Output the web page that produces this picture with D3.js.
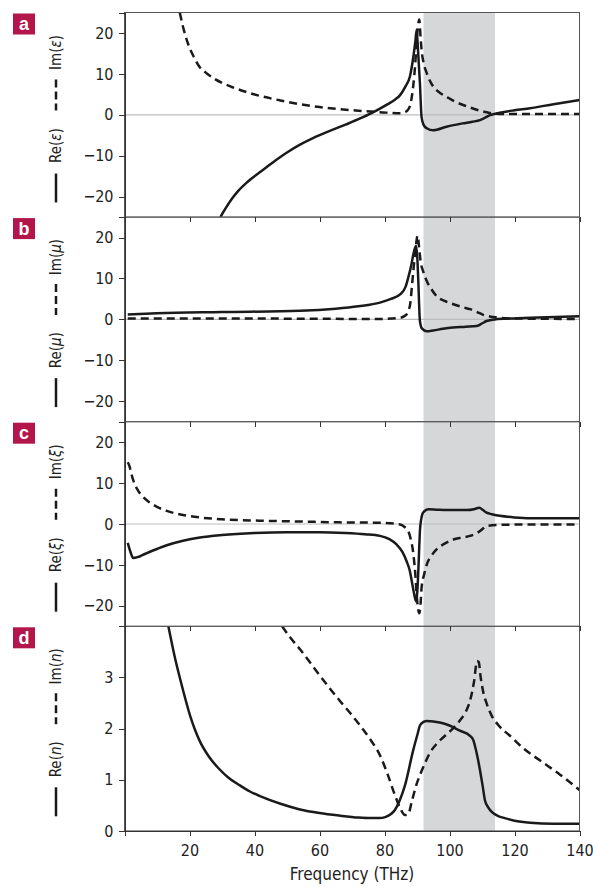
<!DOCTYPE html>
<html>
<head>
  <meta charset="utf-8" />
  <script src="https://d3js.org/d3.v7.min.js"></script>
  <style>
    body {
      margin: 0;
      background: #fff;
      font-family: "Liberation Sans Narrow", "DejaVu Sans Condensed", "Roboto", sans-serif;
    }
    .axis text {
      font-family: "Liberation Sans Narrow", "DejaVu Sans Condensed", "Roboto", sans-serif;
      font-size: 16px;
      fill: #222;
    }
    .axis path, .axis line {
      stroke: #333;
      shape-rendering: crispEdges;
    }
    .curve {
      fill: none;
      stroke: #1a1a1a;
      stroke-width: 2.5px;
      stroke-linejoin: round;
    }
    .legend {
      font-size: 15px;
      fill: #222;
    }
  </style>
</head>
<body>
  <script>
    // frequency axis + shaded band (THz)
    var freqTicks = [20, 40, 60, 80, 100, 120, 140];
    var fieldTicks = [-20, -10, 0, 10, 20];
    var indexTicks = [0, 1, 2, 3];
    var band = [92, 114];

    // [frequency THz, value]
    var reEps = [[29.5,-25],[31,-23],[33,-20.6],[35,-18.6],[38,-16.3],[41.7,-14],[45,-12],[50,-9.2],[54,-7.3],[58,-5.7],[63,-4],[68,-2.4],[72.5,-0.9],[76,0.4],[78.6,1.5],[81,2.6],[83.2,3.7],[84.8,4.8],[86.5,7],[87.8,9.3],[88.9,14.3],[89.5,18],[89.9,20.8],[90.3,16],[90.9,7.7],[91.4,-0.5],[92,-2.4],[93,-3.3],[95,-3.8],[99.1,-2.9],[104,-2.1],[107,-1.7],[109.4,-1.3],[111,-0.7],[112.5,-0.1],[115.5,0.5],[120,1.1],[124.8,1.6],[132,2.6],[140,3.6]];
    var imEps = [[17,25],[18,21.5],[19,18.7],[20,16.4],[21.5,13.9],[23,11.8],[25,10.3],[27.5,8.9],[30,7.8],[33,6.8],[37,5.7],[41.8,4.6],[48,3.5],[54,2.6],[60,1.9],[66,1.4],[72,1],[78.6,0.65],[84.8,0.35],[86.5,0.7],[87.3,1.3],[88,2.6],[88.4,4.4],[89.4,11.8],[90.1,20],[90.7,23.3],[91.1,19],[91.4,15.9],[92,12.8],[93,10.2],[95,6.9],[97,5.4],[99.1,4.4],[101.5,3.3],[104.2,2.4],[107,1.6],[109.4,1],[111.5,0.6],[113.5,0.3],[118,0.2],[140,0.2]];

    var reMu = [[1,1.2],[10,1.5],[30,1.8],[54,2.1],[65,2.6],[72,3.2],[78.6,4.1],[82,5],[84.8,6.1],[86.5,8],[87.3,10.2],[88.3,13.5],[88.9,16],[89.7,18],[90.1,15],[90.4,9.4],[90.9,-0.4],[91.5,-2.2],[93,-2.9],[95,-2.7],[98,-2.3],[101,-2],[105,-1.8],[108.4,-1.6],[110,-1],[111.4,-0.4],[114,0],[119.6,0.25],[130,0.55],[140,0.8]];
    var imMu = [[1,0.2],[40,0.2],[78.6,0.1],[84.8,0.4],[86.5,1],[87.3,2],[88,4.3],[88.4,7.8],[89.4,16],[90.2,20.5],[90.6,18],[91.1,14.3],[92,11.5],[93,9.4],[94.5,7.3],[96,5.7],[98.5,4.5],[101.2,3.7],[104,3],[106.3,2.5],[108.5,1.8],[110.4,1.1],[113.4,0.6],[118,0.25],[140,0.1]];

    var reXi = [[1,-4.6],[1.7,-6.5],[2.7,-8.3],[4,-8.1],[5.5,-7.6],[7.5,-6.9],[10,-6.1],[13,-5.2],[18,-4.1],[23.2,-3.3],[30,-2.7],[40,-2.2],[50,-2],[60,-2],[68,-2.2],[74,-2.5],[78.6,-2.9],[81.5,-3.7],[83.7,-5],[85.5,-6.8],[86.8,-9.1],[87.8,-11.5],[88.4,-14],[89.1,-17],[89.7,-18.9],[90.1,-16.5],[90.4,-11.5],[90.7,-5.5],[90.9,-1.7],[91.3,1.2],[91.9,2.8],[93.5,3.6],[96,3.5],[99.1,3.4],[105.3,3.4],[107.5,3.6],[109.2,4],[110.3,3.4],[111.4,2.8],[113,2.4],[115.5,2],[120,1.6],[124.8,1.4],[140,1.4]];
    var imXi = [[1,15.1],[1.5,14.2],[2.2,12],[3,10],[4,8.4],[5.5,6.8],[7.5,5.4],[10,4.2],[13,3.2],[18,2.2],[23.2,1.6],[30,1.15],[41.7,0.8],[54,0.6],[66,0.4],[78.6,0.3],[84.8,-0.1],[86.3,-0.8],[87.3,-1.7],[88.1,-3.8],[88.9,-7.4],[89.5,-12.5],[89.9,-17.3],[90.7,-21.8],[91.1,-19.5],[91.4,-15.6],[92.2,-12.3],[93,-9.9],[94.5,-7.7],[96,-6.2],[98.5,-4.8],[101.2,-3.8],[104,-3.3],[106.3,-2.9],[108,-2.4],[109.4,-1.7],[110.5,-1],[111.4,-0.5],[114.5,-0.25],[120,-0.15],[140,-0.1]];

    var reN = [[13.5,4],[15.4,3.42],[17.4,2.9],[20.2,2.25],[23.2,1.75],[26,1.45],[29,1.22],[32,1.04],[35.5,0.89],[38.6,0.77],[41.7,0.68],[48,0.53],[54,0.42],[60,0.35],[66,0.3],[72,0.26],[75.5,0.25],[78.5,0.25],[80.2,0.27],[82,0.33],[83.2,0.41],[84.7,0.6],[86.3,0.89],[88.8,1.57],[90.2,1.9],[90.9,2.06],[92,2.13],[93.1,2.15],[97,2.12],[100,2.06],[103.2,1.96],[106.3,1.86],[107.3,1.78],[107.8,1.67],[108.6,1.45],[109.4,1.18],[110.2,0.88],[110.9,0.6],[112,0.45],[113,0.37],[115,0.29],[117,0.25],[120,0.2],[124.8,0.16],[132,0.14],[140,0.14]];
    var imN = [[48.5,4],[51,3.78],[54,3.55],[57,3.3],[60.2,3.03],[63,2.8],[66.3,2.54],[69.5,2.3],[72.5,2.06],[75.5,1.8],[78.6,1.48],[81,1.1],[83.2,0.7],[85,0.42],[86.3,0.31],[87.2,0.32],[88.5,0.6],[89.7,0.88],[90.9,1.09],[92.5,1.33],[94,1.53],[96,1.7],[98.6,1.86],[101,2],[103.2,2.16],[105,2.33],[106.3,2.54],[107.5,2.9],[108.5,3.32],[109,3.3],[109.6,3],[110.3,2.74],[111.5,2.48],[113,2.25],[115,2.07],[118.6,1.86],[123,1.6],[127.8,1.38],[134,1.1],[140,0.8]];

    var panels = [
      { key: "a", domain: [-25, 25], ticks: fieldTicks, re: reEps, im: imEps, sym: "\u03b5", zero: true },
      { key: "b", domain: [-25, 25], ticks: fieldTicks, re: reMu, im: imMu, sym: "\u03bc", zero: true },
      { key: "c", domain: [-25, 25], ticks: fieldTicks, re: reXi, im: imXi, sym: "\u03be", zero: true },
      { key: "d", domain: [0, 4], ticks: indexTicks, re: reN, im: imN, sym: "n", zero: false }
    ];

    var width = 593, height = 887;
    var top0 = 12.5, ph = 204.6;
    var x = d3.scaleLinear().domain([0, 140]).range([124.5, 579.5]);

    var svg = d3.select("body")
      .append("svg")
      .attr("width", width)
      .attr("height", height);

    // shaded band across all panels
    svg.append("rect")
      .attr("x", x(band[0]))
      .attr("y", top0)
      .attr("width", x(band[1]) - x(band[0]))
      .attr("height", ph * panels.length)
      .attr("fill", "#d5d7d9");

    panels.forEach(function(p, i) {
      var y0 = top0 + i * ph;
      var y = d3.scaleLinear().domain(p.domain).range([y0 + ph, y0]);
      var g = svg.append("g");

      g.append("clipPath")
        .attr("id", "clip-" + p.key)
        .append("rect")
        .attr("x", x(0))
        .attr("y", y0)
        .attr("width", x(140) - x(0))
        .attr("height", ph);

      if (p.zero) {
        g.append("line")
          .attr("x1", x(0))
          .attr("x2", x(140))
          .attr("y1", y(0))
          .attr("y2", y(0))
          .attr("stroke", "#bdbdbd")
          .attr("stroke-width", 1.2);
      }

      var line = d3.line()
        .curve(d3.curveMonotoneX)
        .x(function(d) { return x(d[0]); })
        .y(function(d) { return y(d[1]); });

      var plot = g.append("g").attr("clip-path", "url(#clip-" + p.key + ")");
      plot.append("path")
        .attr("class", "curve")
        .attr("d", line(p.im))
        .attr("stroke-dasharray", "8,5");
      plot.append("path")
        .attr("class", "curve")
        .attr("d", line(p.re));

      // frame
      g.append("rect")
        .attr("x", x(0))
        .attr("y", y0)
        .attr("width", x(140) - x(0))
        .attr("height", ph)
        .attr("fill", "none")
        .attr("stroke", "#555")
        .attr("stroke-width", 1);

      g.append("g")
        .attr("class", "axis")
        .attr("transform", `translate(${x(0)} 0)`)
        .call(d3.axisLeft(y).tickValues(p.ticks).tickSize(6).tickPadding(5).tickFormat(d3.format("d")));

      if (i > 0) {
        g.append("g")
          .attr("class", "axis")
          .attr("transform", `translate(0 ${y0})`)
          .call(d3.axisBottom(x).tickValues(freqTicks).tickSize(5).tickFormat(""))
          .call(function(a) { a.select(".domain").remove(); });
      }
      if (i == panels.length - 1) {
        g.append("g")
          .attr("class", "axis")
          .attr("transform", `translate(0 ${y0 + ph})`)
          .call(d3.axisBottom(x).tickValues(freqTicks).tickSize(5).tickPadding(9));
      }

      // panel letter
      g.append("rect")
        .attr("x", 13)
        .attr("y", y0 + 1)
        .attr("width", 22)
        .attr("height", 21)
        .attr("fill", "#b3164a");
      g.append("text")
        .attr("x", 24)
        .attr("y", y0 + 17.5)
        .attr("text-anchor", "middle")
        .attr("fill", "#fff")
        .style("font-family", "'Liberation Sans', Arial, sans-serif")
        .style("font-weight", "bold")
        .style("font-size", "18px")
        .text(p.key);

      // vertical legend
      var lg = g.append("g").attr("class", "legend");
      [["Im(", y0 + 40], ["Re(", y0 + 133]].forEach(function(t) {
        var txt = lg.append("text")
          .attr("transform", `translate(61 ${t[1]}) rotate(-90)`)
          .attr("text-anchor", "middle");
        txt.append("tspan").text(t[0]);
        txt.append("tspan").style("font-style", "italic").text(p.sym);
        txt.append("tspan").text(")");
      });
      lg.append("line")
        .attr("x1", 56).attr("x2", 56)
        .attr("y1", y0 + 67).attr("y2", y0 + 98)
        .attr("stroke", "#1a1a1a")
        .attr("stroke-width", 2.5)
        .attr("stroke-dasharray", "8,4");
      lg.append("line")
        .attr("x1", 56).attr("x2", 56)
        .attr("y1", y0 + 161).attr("y2", y0 + 190)
        .attr("stroke", "#1a1a1a")
        .attr("stroke-width", 2.5);
    });

    svg.append("text")
      .attr("x", (x(0) + x(140)) / 2)
      .attr("y", 880)
      .attr("text-anchor", "middle")
      .style("font-size", "17px")
      .style("fill", "#222")
      .text("Frequency (THz)");
  </script>
</body>
</html>
